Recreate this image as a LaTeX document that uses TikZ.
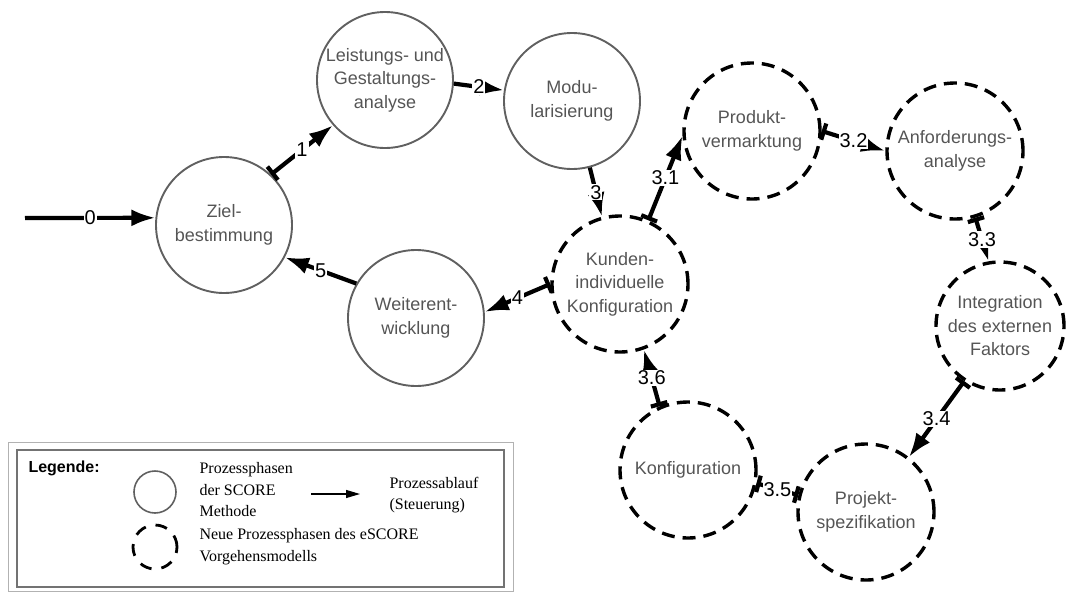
\documentclass[tikz,border=0pt]{standalone}
\usepackage{fontspec}
\setmainfont{Liberation Sans}
\newfontfamily\legendfont{Liberation Serif}
\usetikzlibrary{arrows.meta}
\definecolor{phasegrey}{HTML}{606060}
\definecolor{textgrey}{HTML}{555555}
\begin{document}
\begin{tikzpicture}[x=1pt,y=-1pt,
  phase/.style={circle, draw=phasegrey, line width=1.9pt, minimum size=136pt,
    inner sep=0pt, align=center, text=textgrey, font=\fontsize{18}{23.5}\selectfont},
  newphase/.style={phase, draw=black, line width=3.4pt, dash pattern=on 13pt off 8pt},
  flow/.style={line width=4.2pt, -{Latex[length=24pt,width=17pt]}},
  barflow/.style={line width=4.2pt, {Bar[width=17pt]}-{Latex[length=24pt,width=17pt]}},
  barbar/.style={line width=4.2pt, {Bar[width=17pt]}-{Bar[width=17pt]}},
  lab/.style={fill=white, inner sep=1pt, font=\fontsize{20}{20}\selectfont},
  legtext/.style={anchor=north west, align=left, font=\legendfont\fontsize{16}{21.5}\selectfont}
]
\useasboundingbox (0,0) rectangle (1069,592);

% process phases of the SCORE method
\node[phase] (z) at (224,225) {Ziel-\\bestimmung};
\node[phase] (l) at (385,80) {Leistungs- und\\Gestaltungs-\\analyse};
\node[phase] (m) at (572,101) {Modu-\\larisierung};
\node[phase] (w) at (416,318) {Weiterent-\\wicklung};

% new phases of the eSCORE model
\node[newphase] (k) at (620,284) {Kunden-\\individuelle\\Konfiguration};
\node[newphase] (p) at (752,131) {Produkt-\\vermarktung};
\node[newphase] (a) at (955,151) {Anforderungs-\\analyse};
\node[newphase, minimum size=128pt] (i) at (1000,326) {Integration\\des externen\\Faktors};
\node[newphase] (s) at (866,512) {Projekt-\\spezifikation};
\node[newphase] (c) at (688,470) {Konfiguration};

% process flow
\coordinate (start) at (25,218);
\draw[flow] (start) -- node[lab]{0} (z.174);
\draw[barflow] (z.47) -- node[lab]{1} (l.221);
\draw[flow] (l.-3) -- node[lab]{2} (m.171);
\draw[flow] (m.-75) -- node[lab]{3} (k.105);
\draw[barflow] (k.66) -- node[lab]{3.1} (p.184);
\draw[barflow] (p.0) -- node[lab]{3.2} (a.180);
\draw[barflow] (a.-73) -- node[lab]{3.3} (i.100);
\draw[barflow] (i.237) -- node[lab]{3.4} (s.52);
\draw[barbar] (s.166) -- node[lab]{3.5} (c.-11);
\draw[barflow] (c.114) -- node[lab]{3.6} (k.-70);
\draw[barflow] (k.180) -- node[lab]{4} (w.5);
\draw[flow] (w.150) -- node[lab]{5} (z.-28);

% legend
\draw[draw=gray!60, line width=1pt] (8,442) rectangle (513,591.5);
\draw[draw=gray!90!black, line width=1.2pt] (17,450) rectangle (504,587);
\node[anchor=west, font=\bfseries\fontsize{16}{16}\selectfont] (legtitle) at (25,468) {Legende:};
\node[circle, draw=phasegrey, line width=1.6pt, minimum size=42pt, inner sep=0pt] (legsolid) at (155,492) {};
\node[circle, draw=black, line width=2.8pt, dash pattern=on 12pt off 10pt, minimum size=44pt, inner sep=0pt] (legdashed) at (155,547) {};
\node[legtext] (legsolidtext) at (196,459) {Prozessphasen\\der SCORE\\Methode};
\node[legtext] (legdashedtext) at (196,525) {Neue Prozessphasen des eSCORE\\Vorgehensmodells};
\coordinate (legfrom) at (311,494);
\coordinate (legto) at (360,494);
\draw[line width=1.1pt, -{Triangle[length=14pt,width=8pt]}] (legfrom) -- (legto);
\node[legtext, anchor=west] (legflowtext) at (386,495) {Prozessablauf\\(Steuerung)};
\end{tikzpicture}
\end{document}
